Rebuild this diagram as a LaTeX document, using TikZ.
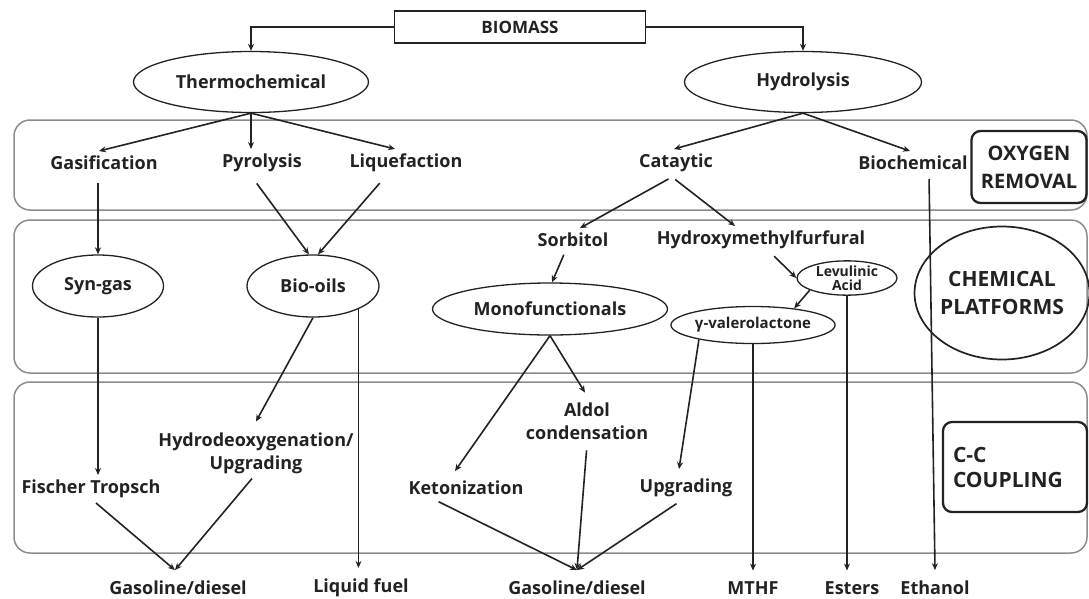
\documentclass[tikz,border=0pt]{standalone}
\usepackage{fontspec}
\setmainfont{Open Sans}
\usetikzlibrary{shapes.geometric,arrows.meta,calc}
\definecolor{ink}{HTML}{222222}
\begin{document}
\begin{tikzpicture}[x=1pt,y=-1pt,
  lab/.style={font=\bfseries\fontsize{18}{23}\selectfont, text=ink, inner sep=1pt, outer sep=4pt, align=center},
  bot/.style={lab, outer sep=10pt},
  ell/.style={draw=ink, line width=1.3pt, ellipse, inner sep=0pt, font=\bfseries\fontsize{18}{23}\selectfont, text=ink},
  band/.style={draw=black!45, line width=1.5pt, rounded corners=16pt},
  tagbox/.style={draw=ink, line width=2.3pt, rounded corners=9pt, text=ink, inner sep=0pt},
  arr/.style={draw=ink, line width=1.6pt, -{Stealth[length=7pt,width=6pt]}}
]
\useasboundingbox (0,0) rectangle (1089,598);
% bands
\draw[band] (14,120) rectangle (1087,210);
\draw[band] (14,220) rectangle (1087,373);
\draw[band] (14,382) rectangle (1087,553);

% top
\node[draw=ink, line width=1.8pt, minimum width=251pt, minimum height=32pt, inner sep=0pt,
      font=\bfseries\fontsize{17}{20}\selectfont, text=ink] (biomass) at (520,27) {BIOMASS};
\node[ell, minimum width=235pt, minimum height=61pt] (thermo) at (251,82) {Thermochemical};
\node[ell, minimum width=237pt, minimum height=61pt] (hydro) at (803,82) {Hydrolysis};

% band 1
\node[lab] (gas) at (104,163) {Gasification};
\node[lab] (pyro) at (262,163) {Pyrolysis};
\node[lab] (liq) at (406,163) {Liquefaction};
\node[lab] (cat) at (676,163) {Cataytic};
\node[lab] (biochem) at (913,163) {Biochemical};
\node[tagbox, minimum width=115pt, minimum height=72pt, align=center,
      font=\bfseries\fontsize{20}{28}\selectfont] (oxy) at (1029,167) {OXYGEN\\REMOVAL};

% band 2
\node[ell, minimum width=131pt, minimum height=62pt] (syngas) at (98,286) {Syn-gas};
\node[ell, minimum width=132pt, minimum height=62pt] (bio) at (313,286) {Bio-oils};
\node[lab] (sorb) at (573,240) {Sorbitol};
\node[lab] (hmf) at (761,240) {Hydroxymethylfurfural};
\node[ell, minimum width=235pt, minimum height=52pt] (mono) at (550,309) {Monofunctionals};
\node[ell, minimum width=100pt, minimum height=30pt, font=\bfseries\fontsize{14}{13.5}\selectfont, align=center] (lev) at (847,278) {Levulinic\\Acid};
\node[ell, minimum width=130pt, minimum height=37pt, font=\bfseries\fontsize{15}{17}\selectfont] (gval) at (753,325) {γ-valerolactone};
\node[ellipse, draw=ink, line width=1.7pt, minimum width=170pt, minimum height=133pt, inner sep=0pt,
      font=\bfseries\fontsize{21}{28}\selectfont, text=ink, align=center] (chem) at (1002,293) {CHEMICAL\\PLATFORMS};

% band 3
\node[lab] (aldol) at (587,421) {Aldol\\condensation};
\node[lab] (hdo) at (256,453) {Hydrodeoxygenation/\\Upgrading};
\node[lab] (ft) at (91,489) {Fischer Tropsch};
\node[lab] (keto) at (466,488) {Ketonization};
\node[lab] (upg) at (686,488) {Upgrading};
\node[tagbox, minimum width=144pt, minimum height=90pt, align=left, text width=124pt,
      font=\bfseries\fontsize{21}{25}\selectfont] (cc) at (1015,467) {C-C\\COUPLING};

% bottom
\node[bot] (gd1) at (178,588) {Gasoline/diesel};
\node[bot] (lf) at (361,588) {Liquid fuel};
\node[bot] (gd2) at (577,588) {Gasoline/diesel};
\node[bot] (mthf) at (753,588) {MTHF};
\node[bot] (esters) at (852,588) {Esters};
\node[bot] (ethanol) at (935,588) {Ethanol};

% connectors
\draw[arr] (biomass.west) -| (thermo.north);
\draw[arr] (biomass.east) -| (hydro.north);
\draw[arr] (thermo.south) -- ([xshift=-5pt]gas.north);
\draw[arr] (thermo.south) -- (thermo.south |- pyro.north);
\draw[arr] (thermo.south) -- ([xshift=-11pt]liq.north);
\draw[arr] (hydro.south) -- ([xshift=-2pt]cat.north);
\draw[arr] (hydro.south) -- ([xshift=-3pt]biochem.north);

\draw[arr, shorten <=8pt] (gas.south -| syngas.north) -- (syngas.north);
\draw[arr, shorten <=8pt] ([xshift=-10pt]pyro.south) -- ([xshift=-4pt]bio.north);
\draw[arr, shorten <=8pt] ([xshift=-21pt]liq.south) -- ([xshift=5pt]bio.north);
\draw[arr, shorten <=4pt] ([xshift=-4pt]cat.south) -- ([xshift=7pt]sorb.north);
\draw[arr, shorten <=4pt] ([xshift=-4pt]cat.south) -- ([xshift=-26pt]hmf.north);
\draw[arr, shorten <=4pt] ([xshift=16pt]biochem.south) -- (ethanol.north);

\draw[arr] (syngas.south) -- (syngas.south |- ft.north);
\draw[arr] (bio.south) -- ([yshift=6pt]hdo.north);
\draw[arr] (bio.-27) -- (bio.-27 |- lf.north);
\draw[arr, shorten <=3pt] ([xshift=-8pt]sorb.south) -- ([xshift=2pt]mono.north);
\draw[arr, shorten <=3pt] ([xshift=11pt]hmf.south) -- (lev.west);
\draw[arr] (lev.198) -- (gval.22);
\draw[arr] (lev.south) -- (lev.south |- esters.north);
\draw[arr] (mono.south) -- ([xshift=-11pt,yshift=5pt]keto.north);
\draw[arr] (mono.south) -- ([xshift=-2pt,yshift=5pt]aldol.north);
\draw[arr] (gval.195) -- ([xshift=-7pt,yshift=5pt]upg.north);
\draw[arr] (gval.south) -- (gval.south |- mthf.north);

\draw[arr] ([xshift=5pt]ft.south) -- ([xshift=-3pt]gd1.north);
\draw[arr] ([xshift=-4pt]hdo.south) -- ([xshift=-3pt]gd1.north);
\draw[arr, shorten <=4pt] ([xshift=-31pt]keto.south) -- (gd2.north);
\draw[arr, shorten <=6pt] (aldol.south) -- (gd2.north);
\draw[arr, shorten <=3pt] ([xshift=-7pt]upg.south) -- (gd2.north);
\end{tikzpicture}
\end{document}
